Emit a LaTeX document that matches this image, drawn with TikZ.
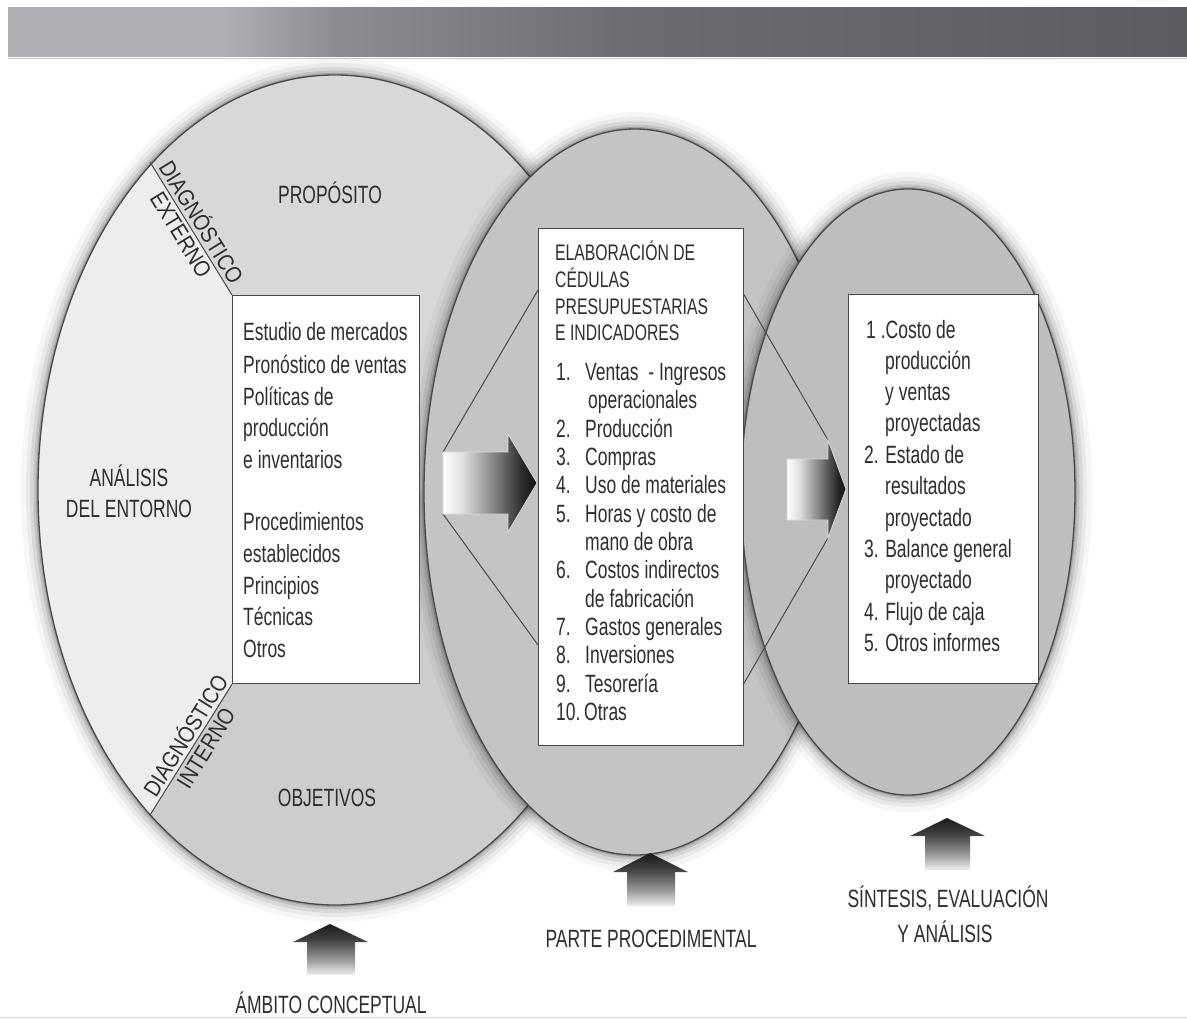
\documentclass[tikz,border=0pt]{standalone}
\usepackage{fontspec}
\setmainfont{Liberation Sans}[FakeStretch=0.70]
\newfontfamily\diagfont{Liberation Sans}[FakeStretch=0.86]
\usetikzlibrary{calc}
\definecolor{txt}{HTML}{2E2E2E}
\definecolor{edge}{HTML}{4A4A4A}
\definecolor{lefttop}{HTML}{D8D8D8}
\definecolor{leftmid}{HTML}{EDEDED}
\definecolor{leftbot}{HTML}{CDCDCD}
\definecolor{midfill}{HTML}{C4C4C4}
\definecolor{rightfill}{HTML}{BEBEBE}
\definecolor{barA}{HTML}{B2AFB4}
\definecolor{barB}{HTML}{8E8B90}
\definecolor{barC}{HTML}{78757A}
\definecolor{barD}{HTML}{6E6B70}
\definecolor{barE}{HTML}{5F5C61}
\pgfdeclarehorizontalshading{topbar}{100bp}{color(0bp)=(barA); color(25bp)=(barA); color(34bp)=(barA); color(39bp)=(barB); color(48bp)=(barC); color(52bp)=(barD); color(75bp)=(barE); color(100bp)=(barE)}
\pgfdeclarehorizontalshading{rarrow}{100bp}{color(0bp)=(white); color(25bp)=(white); color(35bp)=(white!88!black); color(55bp)=(black!55); color(68bp)=(black!85); color(75bp)=(black!92); color(100bp)=(black!92)}
\pgfdeclareverticalshading{uarrow}{100bp}{color(0bp)=(white); color(25bp)=(white!94!black); color(40bp)=(black!40); color(60bp)=(black!75); color(75bp)=(black!90); color(100bp)=(black!90)}
\newcommand\softrim[4]{\foreach \w/\o in {34/0.035,24/0.05,16/0.07,9/0.1,4/0.16}{\draw[line width=\w, black, opacity=\o] (#1,#2) ellipse [x radius=#3, y radius=#4];}}
\begin{document}
\begin{tikzpicture}[x=1pt,y=-1pt,
  box/.style={draw=edge, line width=1.4pt, fill=white, inner sep=0pt, anchor=north west},
  tx/.style={text=txt, inner sep=0pt, anchor=base west, font=\fontsize{25}{30}\selectfont},
  hd/.style={tx, font=\fontsize{22.5}{27}\selectfont},
  lbl/.style={text=txt, inner sep=0pt, anchor=base, font=\fontsize{25}{30}\selectfont},
  dg/.style={text=txt, inner sep=3.5pt, font=\diagfont\fontsize{23}{27}\selectfont},
  funnel/.style={draw=edge, line width=1pt},
  rim/.style={draw=edge, line width=1.3pt}]
\useasboundingbox (0,0) rectangle (1187,1019);
\fill[white] (0,0) rectangle (1187,1019);
% top bar
\shade[shading=topbar] (8,8) rectangle (1187,57);
\draw[black!22, line width=0.8] (8,58.5) -- (1187,58.5);
\draw[black!18, line width=0.8] (0,1017.5) -- (1187,1017.5);

% left circle
\softrim{335}{490}{297}{415}
\begin{scope}
  \clip (335,490) ellipse [x radius=297, y radius=415];
  \fill[leftmid] (0,0) rectangle (700,1000);
  \fill[lefttop] (232,295) -- (109,95.5) -- (109,40) -- (700,40) -- (700,490) -- (232,490) -- cycle;
  \fill[leftbot] (232,683) -- (109,881) -- (109,950) -- (700,950) -- (700,490) -- (232,490) -- cycle;
\end{scope}
\draw[rim] (335,490) ellipse [x radius=297, y radius=415];

% middle circle
\softrim{635}{492}{211}{363}
\fill[midfill] (635,492) ellipse [x radius=211, y radius=363];
\draw[rim] (635,492) ellipse [x radius=211, y radius=363];

% right circle
\softrim{908}{492}{167}{303}
\fill[rightfill] (908,492) ellipse [x radius=167, y radius=303];
\draw[rim] (908,492) ellipse [x radius=167, y radius=303];

% boxes
\node[box, minimum width=187, minimum height=388] (lbox) at (232,295) {};
\node[box, minimum width=205, minimum height=517] (mbox) at (538,228) {};
\node[box, minimum width=190, minimum height=389] (rbox) at (848,294) {};

% diagonal lines in the left circle
\coordinate (dext) at (150,162);
\coordinate (dint) at (150,815);
\draw[funnel] (dext) -- (lbox.north west);
\draw[funnel] (dint) -- (lbox.south west);
\node[dg, rotate=-58.35, anchor=south] (dxa) at ($(dext)!0.5!(lbox.north west)$) {DIAGNÓSTICO};
\node[dg, rotate=-58.35, anchor=north] (dxb) at ($(dext)!0.5!(lbox.north west)$) {EXTERNO};
\node[dg, rotate=58.15, anchor=south] (dia) at ($(dint)!0.56!(lbox.south west)$) {DIAGNÓSTICO};
\node[dg, rotate=58.15, anchor=north] (dib) at ($(dint)!0.56!(lbox.south west)$) {INTERNO};

% circle labels
\node[lbl] (prop) at (330,204) {PROPÓSITO};
\node[lbl] (obj) at (327,806) {OBJETIVOS};
\node[lbl] (an1) at (129,486) {ANÁLISIS};
\node[lbl] (an2) at (129,517) {DEL ENTORNO};

% left box text
\foreach \yy/\t [count=\i] in {341/Estudio de mercados, 373/Pronóstico de ventas, 405/Políticas de, 436/producción, 468/e inventarios, 530/Procedimientos, 562/establecidos, 594/Principios, 625/Técnicas, 657/Otros}
  \node[tx] (lt\i) at (243,\yy) {\t};

% middle box text
\foreach \yy/\t [count=\i] in {261/ELABORACIÓN DE, 288/CÉDULAS, 315/PRESUPUESTARIAS, 341/E INDICADORES}
  \node[hd] (mh\i) at (555,\yy) {\t};
\foreach \yy/\t [count=\i] in {380/1., 437/2., 465/3., 493/4., 522/5., 578/6., 635/7., 663/8., 692/9., 720/10.}
  \node[tx] (mn\i) at (556,\yy) {\t};
\foreach \xx/\yy/\t [count=\i] in {585/380/Ventas \ - Ingresos, 588/408/operacionales, 585/437/Producción, 585/465/Compras, 585/493/Uso de materiales, 585/522/Horas y costo de, 585/550/mano de obra, 585/578/Costos indirectos, 585/607/de fabricación, 585/635/Gastos generales, 585/663/Inversiones, 585/692/Tesorería, 584/720/Otras}
  \node[tx] (mt\i) at (\xx,\yy) {\t};

% right box text
\foreach \xx/\yy/\t [count=\i] in {866/338/1 .Costo de, 885/369/producción, 885/400/y ventas, 885/431/proyectadas, 864/463/2. Estado de, 885/494/resultados, 885/526/proyectado, 864/557/3. Balance general, 885/588/proyectado, 864/620/4. Flujo de caja, 864/651/5. Otros informes}
  \node[tx] (rt\i) at (\xx,\yy) {\t};

% funnel lines and arrow in the middle circle
\coordinate (ma1) at (443,452);
\coordinate (ma2) at (443,514);
\draw[funnel] (ma1) -- (538,290);
\draw[funnel] (ma2) -- (538,645);
\shade[shading=rarrow, draw=white!85!black, line width=0.8]
  (443,452) -- (508,452) -- (508,434) -- (537,483) -- (508,532) -- (508,514) -- (443,514) -- cycle;

% funnel lines and arrow in the right circle
\coordinate (ra1) at (828,440);
\coordinate (ra2) at (828,538);
\draw[funnel] (743,293) -- (ra1);
\draw[funnel] (743,685) -- (ra2);
\shade[shading=rarrow, draw=white!85!black, line width=0.8]
  (787,459) -- (828,459) -- (828,440) -- (846,489) -- (828,538) -- (828,520) -- (787,520) -- cycle;

% up arrows
\shade[shading=uarrow] (330,924) -- (368,942) -- (355,942) -- (355,975) -- (307,975) -- (307,942) -- (293,942) -- cycle;
\shade[shading=uarrow] (650,853) -- (688,872) -- (675,872) -- (675,906) -- (627,906) -- (627,872) -- (613,872) -- cycle;
\shade[shading=uarrow] (947,818) -- (985,836) -- (970,836) -- (970,870) -- (925,870) -- (925,836) -- (910,836) -- cycle;

% bottom labels
\node[lbl] (amb) at (331,1013) {ÁMBITO CONCEPTUAL};
\node[lbl] (par) at (651,947) {PARTE PROCEDIMENTAL};
\node[lbl] (sin1) at (948,907) {SÍNTESIS, EVALUACIÓN};
\node[lbl] (sin2) at (945,942) {Y ANÁLISIS};
\end{tikzpicture}
\end{document}
